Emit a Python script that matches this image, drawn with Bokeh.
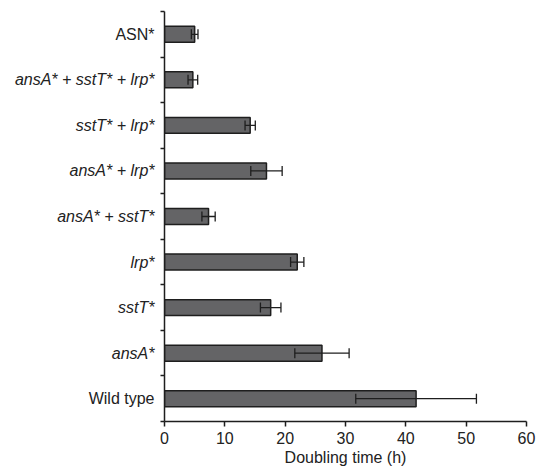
from bokeh.plotting import figure
from bokeh.layouts import row
from bokeh.models import ColumnDataSource, Whisker, Range1d, TeeHead
from bokeh.core.properties import value, field
from bokeh.embed import file_html
from bokeh.resources import INLINE

strains = ["Wild type", "ansA*", "sstT*", "lrp*", "ansA* + sstT*",
           "ansA* + lrp*", "sstT* + lrp*", "ansA* + sstT* + lrp*", "ASN*"]
label_styles = ["normal", "italic", "italic", "italic", "italic",
                "italic", "italic", "italic", "normal"]
doubling_time = [41.7, 26.1, 17.6, 22.0, 7.3, 16.9, 14.2, 4.7, 5.0]
error = [10.0, 4.5, 1.7, 1.1, 1.1, 2.6, 0.85, 0.8, 0.55]
x_ticks = [0, 10, 20, 30, 40, 50, 60]

n = len(strains)
pos = [i + 0.5 for i in range(n)]
src = ColumnDataSource(dict(
    y=pos,
    right=doubling_time,
    lower=[d - e for d, e in zip(doubling_time, error)],
    upper=[d + e for d, e in zip(doubling_time, error)],
    label=strains,
    style=label_styles,
    lx=[1] * n,
))

FONT = "Liberation Sans"
DARK = "#1e1e1e"
TXT = "#222222"
FS = "16px"
H = 469
TOP = 11
BOTTOM = 48

y_range = Range1d(0, n)

# label panel (left)
lab = figure(width=156, height=H, x_range=Range1d(0, 1), y_range=y_range,
             output_backend="svg", toolbar_location=None,
             x_axis_location=None, y_axis_location=None,
             min_border_left=0, min_border_right=0,
             min_border_top=TOP, min_border_bottom=BOTTOM)
lab.outline_line_color = None
lab.xgrid.visible = False
lab.ygrid.visible = False
lab.text(x="lx", y="y", text="label", source=src, x_offset=-2,
         text_align="right", text_baseline="middle",
         text_font=value(FONT), text_font_style=field("style"),
         text_font_size=FS, text_color=TXT)

# main chart
p = figure(width=383, height=H, x_range=Range1d(0, 60), y_range=y_range,
           output_backend="svg", toolbar_location=None,
           min_border_left=8, min_border_right=13,
           min_border_top=TOP, min_border_bottom=BOTTOM)
p.outline_line_color = None
p.xgrid.visible = False
p.ygrid.visible = False

p.hbar(y="y", left=0, right="right", height=0.35, source=src,
       fill_color="#646466", line_color=DARK, line_width=1.5)

w = Whisker(base="y", lower="lower", upper="upper", dimension="width", source=src,
            line_color=DARK, line_width=1.3, level="overlay",
            lower_head=TeeHead(size=10, line_color=DARK, line_width=1.3),
            upper_head=TeeHead(size=10, line_color=DARK, line_width=1.3))
p.add_layout(w)

xa = p.xaxis[0]
xa.ticker = x_ticks
xa.axis_label = "Doubling time (h)"
xa.axis_label_text_font = FONT
xa.axis_label_text_font_style = "normal"
xa.axis_label_text_font_size = FS
xa.axis_label_text_color = TXT
xa.axis_label_standoff = 2
xa.major_label_text_font = FONT
xa.major_label_text_font_size = FS
xa.major_label_text_color = TXT
xa.major_label_standoff = 5
xa.axis_line_color = DARK
xa.axis_line_width = 1.5
xa.major_tick_line_color = DARK
xa.major_tick_line_width = 1.5
xa.major_tick_out = 5
xa.major_tick_in = 0
xa.minor_tick_line_color = None

ya = p.yaxis[0]
ya.ticker = list(range(n + 1))
ya.major_label_overrides = {i: "" for i in range(n + 1)}
ya.major_label_standoff = 0
ya.axis_line_color = DARK
ya.axis_line_width = 1.5
ya.major_tick_line_color = DARK
ya.major_tick_line_width = 1.5
ya.major_tick_out = 4
ya.major_tick_in = 0
ya.minor_tick_line_color = None

layout = row(lab, p)
open("out.html", "w").write(file_html(layout, INLINE))
